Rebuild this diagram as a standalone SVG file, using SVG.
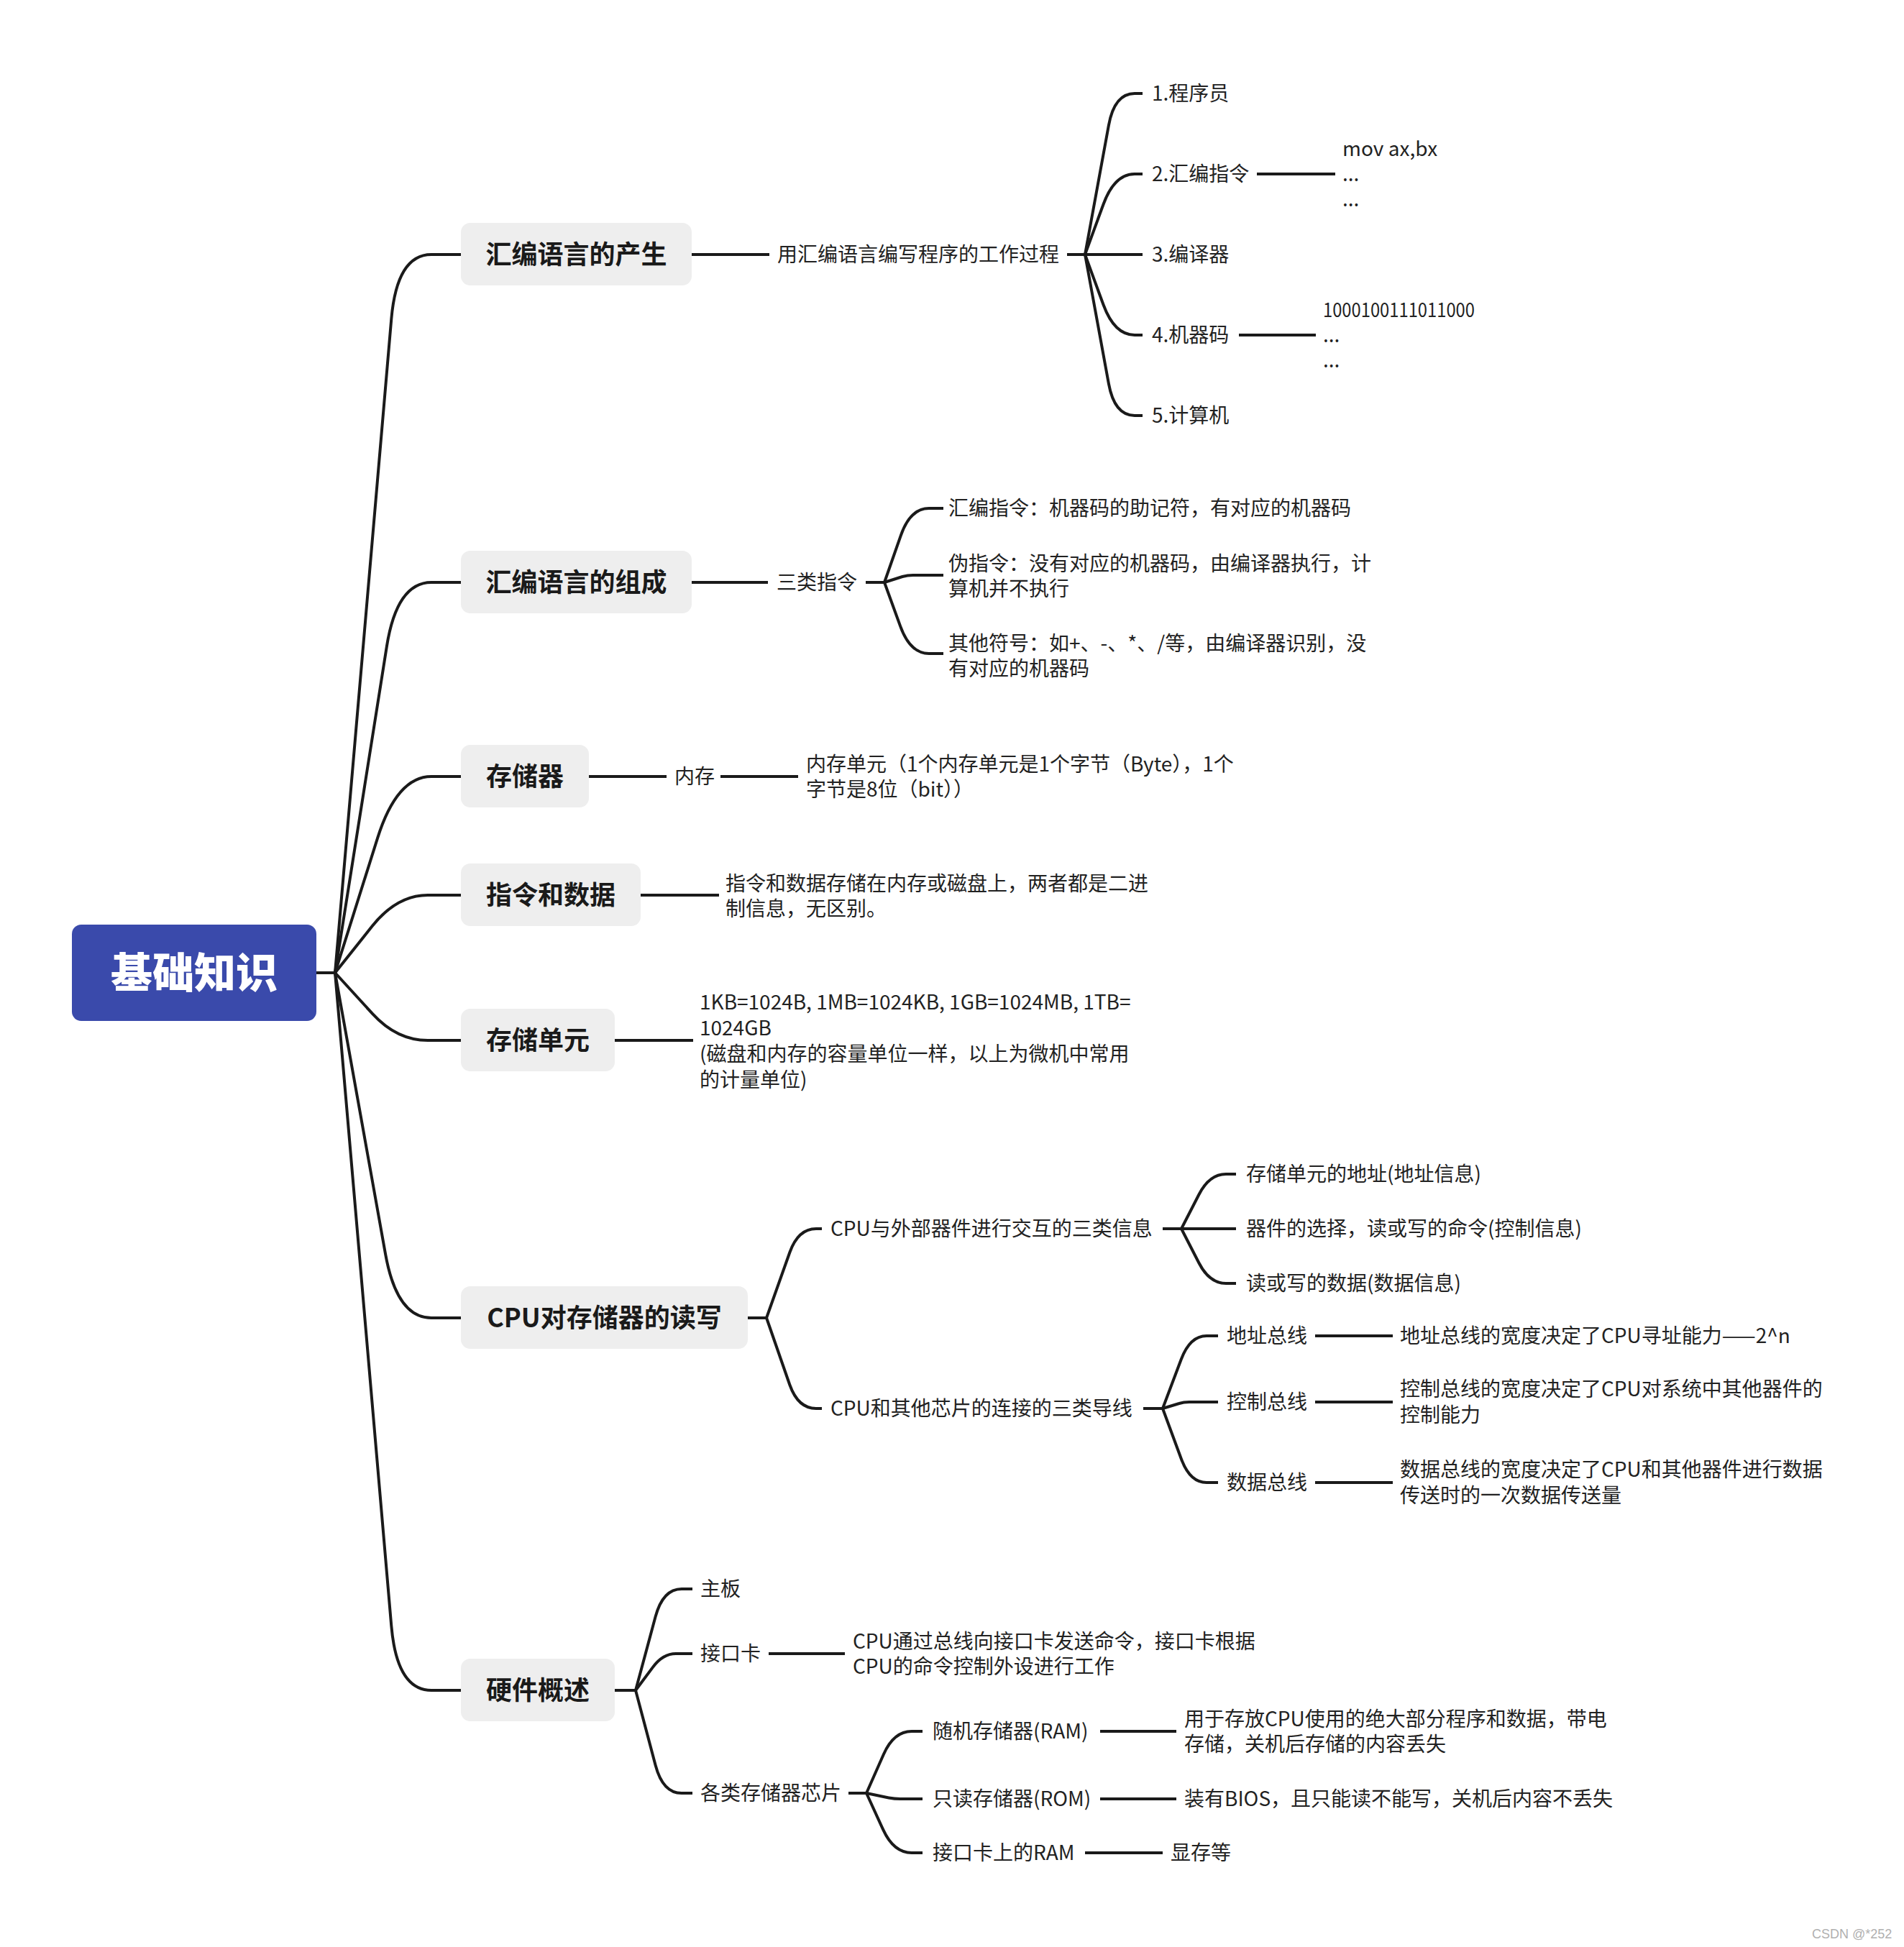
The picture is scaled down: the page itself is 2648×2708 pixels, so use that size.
<svg xmlns="http://www.w3.org/2000/svg" width="2648" height="2708" viewBox="0 0 2648 2708">
<style>
.c{fill:none;stroke:#1a1a1a;stroke-width:4}
.t{font-family:"Noto Sans CJK SC","Noto Sans",sans-serif;font-size:28px;fill:#222}
.b{font-family:"Noto Sans CJK SC","Noto Sans",sans-serif;font-size:36px;font-weight:700;fill:#1a1a1a}
.box{fill:#eeeeee}
</style>
<rect width="2648" height="2708" fill="#ffffff"/>
<g id="connectors">
<path class="c" d="M439 1353 L466 1353"/>
<path class="c" d="M466 1353 L544.3 443.7 Q552 354 600 354 L641 354"/>
<path class="c" d="M466 1353 L537.9 898.9 Q552 810 600 810 L641 810"/>
<path class="c" d="M466 1353 L525 1165.9 Q552 1080 600 1080 L641 1080"/>
<path class="c" d="M466 1353 L517.7 1288 Q552 1245 595 1245 L641 1245"/>
<path class="c" d="M466 1353 L518.2 1410.1 Q552 1447 595 1447 L641 1447"/>
<path class="c" d="M466 1353 L536.1 1744.4 Q552 1833 600 1833 L641 1833"/>
<path class="c" d="M466 1353 L544.3 2261.4 Q552 2351 600 2351 L641 2351"/>
<path class="c" d="M962 354 L1070 354"/>
<path class="c" d="M1484 354 L1509 354"/>
<path class="c" d="M1509 354 L1541.9 174.3 Q1550 130 1578 130 L1589 130"/>
<path class="c" d="M1509 354 L1534.5 284.2 Q1550 242 1578 242 L1589 242"/>
<path class="c" d="M1509 354 L1589 354"/>
<path class="c" d="M1509 354 L1534.5 423.8 Q1550 466 1578 466 L1589 466"/>
<path class="c" d="M1509 354 L1541.9 533.7 Q1550 578 1578 578 L1589 578"/>
<path class="c" d="M1748 242 L1857 242"/>
<path class="c" d="M1723 466 L1830 466"/>
<path class="c" d="M962 810 L1068 810"/>
<path class="c" d="M1204 810 L1230 810"/>
<path class="c" d="M1230 810 L1252.8 744.8 Q1266 707 1292 707 L1312 707"/>
<path class="c" d="M1230 810 L1255 802 Q1262 800 1270 800 L1312 800"/>
<path class="c" d="M1230 810 L1252.3 871.4 Q1266 909 1292 909 L1312 909"/>
<path class="c" d="M819 1080 L927 1080"/>
<path class="c" d="M1002 1080 L1110 1080"/>
<path class="c" d="M891 1245 L1000 1245"/>
<path class="c" d="M855 1447 L964 1447"/>
<path class="c" d="M1040 1833 L1066 1833"/>
<path class="c" d="M1066 1833 L1098.3 1742 Q1110 1709 1135 1709 L1143 1709"/>
<path class="c" d="M1066 1833 L1098.3 1926 Q1110 1959 1135 1959 L1143 1959"/>
<path class="c" d="M1617 1709 L1643 1709"/>
<path class="c" d="M1643 1709 L1667.4 1661.5 Q1682 1633 1705 1633 L1719 1633"/>
<path class="c" d="M1643 1709 L1719 1709"/>
<path class="c" d="M1643 1709 L1667.4 1756.5 Q1682 1785 1705 1785 L1719 1785"/>
<path class="c" d="M1590 1959 L1617 1959"/>
<path class="c" d="M1617 1959 L1642.7 1890.8 Q1655 1858 1678 1858 L1694 1858"/>
<path class="c" d="M1617 1959 L1640 1952 Q1646 1950 1654 1950 L1694 1950"/>
<path class="c" d="M1617 1959 L1642.9 2029.2 Q1655 2062 1678 2062 L1694 2062"/>
<path class="c" d="M1829 1858 L1937 1858"/>
<path class="c" d="M1829 1950 L1937 1950"/>
<path class="c" d="M1829 2062 L1937 2062"/>
<path class="c" d="M855 2351 L884 2351"/>
<path class="c" d="M884 2351 L911.6 2248.6 Q922 2210 948 2210 L963 2210"/>
<path class="c" d="M884 2351 L908.3 2318.4 Q922 2300 940 2300 L963 2300"/>
<path class="c" d="M884 2351 L911.7 2455.4 Q922 2494 948 2494 L963 2494"/>
<path class="c" d="M1069 2300 L1175 2300"/>
<path class="c" d="M1180 2494 L1205 2494"/>
<path class="c" d="M1205 2494 L1228.9 2440 Q1243 2408 1268 2408 L1283 2408"/>
<path class="c" d="M1205 2494 L1236 2500.5 Q1244 2502 1252 2502 L1283 2502"/>
<path class="c" d="M1205 2494 L1228.4 2545.2 Q1243 2577 1268 2577 L1283 2577"/>
<path class="c" d="M1530 2408 L1636 2408"/>
<path class="c" d="M1530 2502 L1636 2502"/>
<path class="c" d="M1509 2577 L1617 2577"/>
</g>
<g id="root">
<rect x="100" y="1286" width="340" height="134" rx="13" fill="#3a4aab"/>
<text x="270" y="1374" text-anchor="middle" style="font-family:'Noto Sans CJK SC','Noto Sans',sans-serif;font-size:58px;font-weight:900;fill:#ffffff">基础知识</text>
</g>
<g id="n1">
<rect class="box" x="641" y="310" width="321" height="87" rx="13"/>
<text class="b" x="801.5" y="367" text-anchor="middle">汇编语言的产生</text>
</g>
<g id="n1-1"><text class="t" x="1081" y="364">用汇编语言编写程序的工作过程</text></g>
<g id="n1-1-1"><text class="t" x="1602" y="140">1.程序员</text></g>
<g id="n1-1-2"><text class="t" x="1602" y="252">2.汇编指令</text></g>
<g id="n1-1-2-1"><text class="t" x="1867" y="217">mov ax,bx<tspan x="1867" y="252">...</tspan><tspan x="1867" y="287">...</tspan></text></g>
<g id="n1-1-3"><text class="t" x="1602" y="364">3.编译器</text></g>
<g id="n1-1-4"><text class="t" x="1602" y="476">4.机器码</text></g>
<g id="n1-1-4-1"><text class="t" x="1840" y="441" textLength="211" lengthAdjust="spacingAndGlyphs">1000100111011000</text><text class="t" x="1840" y="476">...<tspan x="1840" y="511">...</tspan></text></g>
<g id="n1-1-5"><text class="t" x="1602" y="588">5.计算机</text></g>
<g id="n2">
<rect class="box" x="641" y="766" width="321" height="87" rx="13"/>
<text class="b" x="801.5" y="823" text-anchor="middle">汇编语言的组成</text>
</g>
<g id="n2-1"><text class="t" x="1080" y="820">三类指令</text></g>
<g id="n2-1-1"><text class="t" x="1319" y="717">汇编指令：机器码的助记符，有对应的机器码</text></g>
<g id="n2-1-2"><text class="t" x="1319" y="794">伪指令：没有对应的机器码，由编译器执行，计<tspan x="1319" y="829">算机并不执行</tspan></text></g>
<g id="n2-1-3"><text class="t" x="1319" y="905">其他符号：如+、-、*、/等，由编译器识别，没<tspan x="1319" y="940">有对应的机器码</tspan></text></g>
<g id="n3">
<rect class="box" x="641" y="1036" width="178" height="87" rx="13"/>
<text class="b" x="730" y="1093" text-anchor="middle">存储器</text>
</g>
<g id="n3-1"><text class="t" x="938" y="1090">内存</text></g>
<g id="n3-1-1"><text class="t" x="1121" y="1073">内存单元（1个内存单元是1个字节（Byte），1个<tspan x="1121" y="1108">字节是8位（bit））</tspan></text></g>
<g id="n4">
<rect class="box" x="641" y="1201" width="250" height="87" rx="13"/>
<text class="b" x="766" y="1258" text-anchor="middle">指令和数据</text>
</g>
<g id="n4-1"><text class="t" x="1009" y="1239">指令和数据存储在内存或磁盘上，两者都是二进<tspan x="1009" y="1274">制信息，无区别。</tspan></text></g>
<g id="n5">
<rect class="box" x="641" y="1403" width="214" height="87" rx="13"/>
<text class="b" x="748" y="1460" text-anchor="middle">存储单元</text>
</g>
<g id="n5-1"><text class="t" x="973" y="1404">1KB=1024B, 1MB=1024KB, 1GB=1024MB, 1TB=<tspan x="973" y="1440">1024GB</tspan><tspan x="973" y="1476">(磁盘和内存的容量单位一样，以上为微机中常用</tspan><tspan x="973" y="1512">的计量单位)</tspan></text></g>
<g id="n6">
<rect class="box" x="641" y="1789" width="399" height="87" rx="13"/>
<text class="b" x="840.5" y="1846" text-anchor="middle">CPU对存储器的读写</text>
</g>
<g id="n6-1"><text class="t" x="1155" y="1719">CPU与外部器件进行交互的三类信息</text></g>
<g id="n6-1-1"><text class="t" x="1733" y="1643">存储单元的地址(地址信息)</text></g>
<g id="n6-1-2"><text class="t" x="1733" y="1719">器件的选择，读或写的命令(控制信息)</text></g>
<g id="n6-1-3"><text class="t" x="1733" y="1795">读或写的数据(数据信息)</text></g>
<g id="n6-2"><text class="t" x="1155" y="1969">CPU和其他芯片的连接的三类导线</text></g>
<g id="n6-2-1"><text class="t" x="1706" y="1868">地址总线</text></g>
<g id="n6-2-1-1"><text class="t" x="1947" y="1868">地址总线的宽度决定了CPU寻址能力——2^n</text></g>
<g id="n6-2-2"><text class="t" x="1706" y="1960">控制总线</text></g>
<g id="n6-2-2-1"><text class="t" x="1947" y="1942">控制总线的宽度决定了CPU对系统中其他器件的<tspan x="1947" y="1978">控制能力</tspan></text></g>
<g id="n6-2-3"><text class="t" x="1706" y="2072">数据总线</text></g>
<g id="n6-2-3-1"><text class="t" x="1947" y="2054">数据总线的宽度决定了CPU和其他器件进行数据<tspan x="1947" y="2090">传送时的一次数据传送量</tspan></text></g>
<g id="n7">
<rect class="box" x="641" y="2307" width="214" height="87" rx="13"/>
<text class="b" x="748" y="2364" text-anchor="middle">硬件概述</text>
</g>
<g id="n7-1"><text class="t" x="974" y="2220">主板</text></g>
<g id="n7-2"><text class="t" x="974" y="2310">接口卡</text></g>
<g id="n7-2-1"><text class="t" x="1186" y="2293">CPU通过总线向接口卡发送命令，接口卡根据<tspan x="1186" y="2328">CPU的命令控制外设进行工作</tspan></text></g>
<g id="n7-3"><text class="t" x="974" y="2504">各类存储器芯片</text></g>
<g id="n7-3-1"><text class="t" x="1297" y="2418">随机存储器(RAM)</text></g>
<g id="n7-3-1-1"><text class="t" x="1647" y="2401">用于存放CPU使用的绝大部分程序和数据，带电<tspan x="1647" y="2436">存储，关机后存储的内容丢失</tspan></text></g>
<g id="n7-3-2"><text class="t" x="1297" y="2512">只读存储器(ROM)</text></g>
<g id="n7-3-2-1"><text class="t" x="1647" y="2512">装有BIOS，且只能读不能写，关机后内容不丢失</text></g>
<g id="n7-3-3"><text class="t" x="1297" y="2587">接口卡上的RAM</text></g>
<g id="n7-3-3-1"><text class="t" x="1628" y="2587">显存等</text></g>
<text x="2520" y="2696" style="font-family:'Liberation Sans',Arial,sans-serif;font-size:18px;fill:#b0b0b0">CSDN @*252</text>
</svg>
